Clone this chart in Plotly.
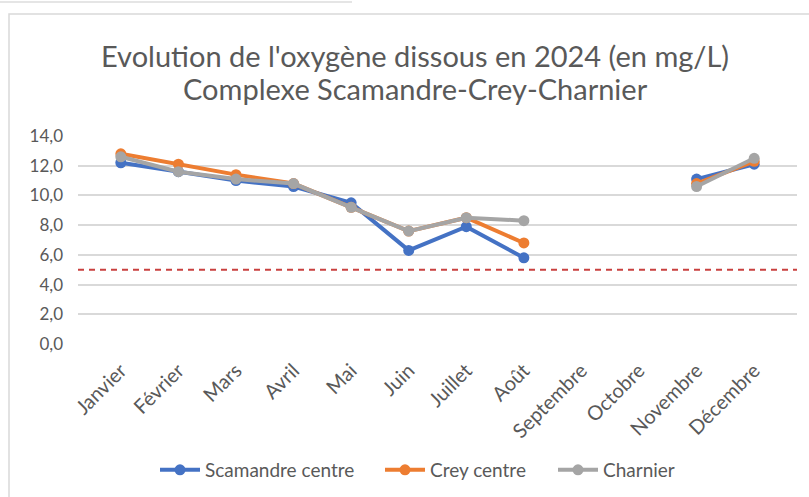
import plotly.graph_objects as go

months = ["Janvier", "Février", "Mars", "Avril", "Mai", "Juin", "Juillet", "Août",
          "Septembre", "Octobre", "Novembre", "Décembre"]
scamandre = [12.2, 11.6, 11.0, 10.6, 9.5, 6.3, 7.9, 5.8, None, None, 11.1, 12.1]
crey = [12.8, 12.1, 11.4, 10.8, 9.2, 7.6, 8.5, 6.8, None, None, 10.8, 12.3]
charnier = [12.6, 11.6, 11.1, 10.8, 9.2, 7.6, 8.5, 8.3, None, None, 10.6, 12.5]
seuil = 5.0
y_ticks = [0, 2, 4, 6, 8, 10, 12, 14]

W, H = 809, 497
L, R, T, B = 78, 12, 136, 153
PW, PH = W - L - R, H - T - B

def px(x):
    return (x - L) / PW

def py(y):
    return (H - B - y) / PH

FONT = "Lato"
GREY = "#595959"

fig = go.Figure()
series = [("Scamandre centre", scamandre, "#4472C4", "legend", 155),
          ("Crey centre", crey, "#ED7D31", "legend2", 380),
          ("Charnier", charnier, "#A5A5A5", "legend3", 553)]
for name, vals, col, leg, _ in series:
    fig.add_trace(go.Scatter(
        x=months, y=vals, name=name, mode="lines+markers",
        line=dict(color=col, width=4), marker=dict(color=col, size=11),
        connectgaps=False, legend=leg))

fig.add_shape(type="line", xref="paper", yref="y", x0=0, x1=1, y0=seuil, y1=seuil,
              line=dict(color="#C9403F", width=2, dash="6px,5px"))

# chart frame
fig.add_shape(type="rect", xref="paper", yref="paper",
              x0=px(9), x1=px(830), y0=py(14), y1=py(510),
              line=dict(color="#D9D9D9", width=1.5), layer="below")
fig.add_shape(type="line", xref="paper", yref="paper",
              x0=px(0), x1=px(352), y0=py(2), y1=py(2),
              line=dict(color="#DCDCDC", width=1.5))

fig.add_annotation(text="Evolution de l'oxygène dissous en 2024 (en mg/L)",
                   xref="paper", yref="paper", x=px(415), y=py(55),
                   showarrow=False, xanchor="center", yanchor="middle",
                   font=dict(family=FONT, size=29, color=GREY))
fig.add_annotation(text="Complexe Scamandre-Crey-Charnier",
                   xref="paper", yref="paper", x=px(415), y=py(89),
                   showarrow=False, xanchor="center", yanchor="middle",
                   font=dict(family=FONT, size=29, color=GREY))

legend_style = dict(orientation="h", y=py(470), yanchor="middle", xanchor="left",
                    font=dict(family=FONT, size=19, color=GREY), itemwidth=40,
                    bgcolor="rgba(0,0,0,0)")
legends = {}
for name, vals, col, leg, xpix in series:
    legends[leg] = dict(legend_style, x=px(xpix))

fig.update_layout(
    width=W, height=H, margin=dict(l=L, r=R, t=T, b=B, autoexpand=False),
    paper_bgcolor="white", plot_bgcolor="white",
    separators=", ",
    font=dict(family=FONT, color=GREY, size=17),
    showlegend=True,
    xaxis=dict(type="category", tickangle=-45, showgrid=False, showline=False,
               ticks="", tickfont=dict(size=20, color=GREY), ticklabelstandoff=10),
    yaxis=dict(range=[0, 14], tickvals=y_ticks, tickformat=".1f",
               showgrid=True, gridcolor="#D9D9D9", gridwidth=1.5, zeroline=False,
               showline=False, ticks="", tickfont=dict(size=17, color=GREY),
               ticklabelstandoff=14),
    **legends,
)

fig.write_html("out.html", config={"displayModeBar": False},
               post_script="document.body.style.margin='0';")
